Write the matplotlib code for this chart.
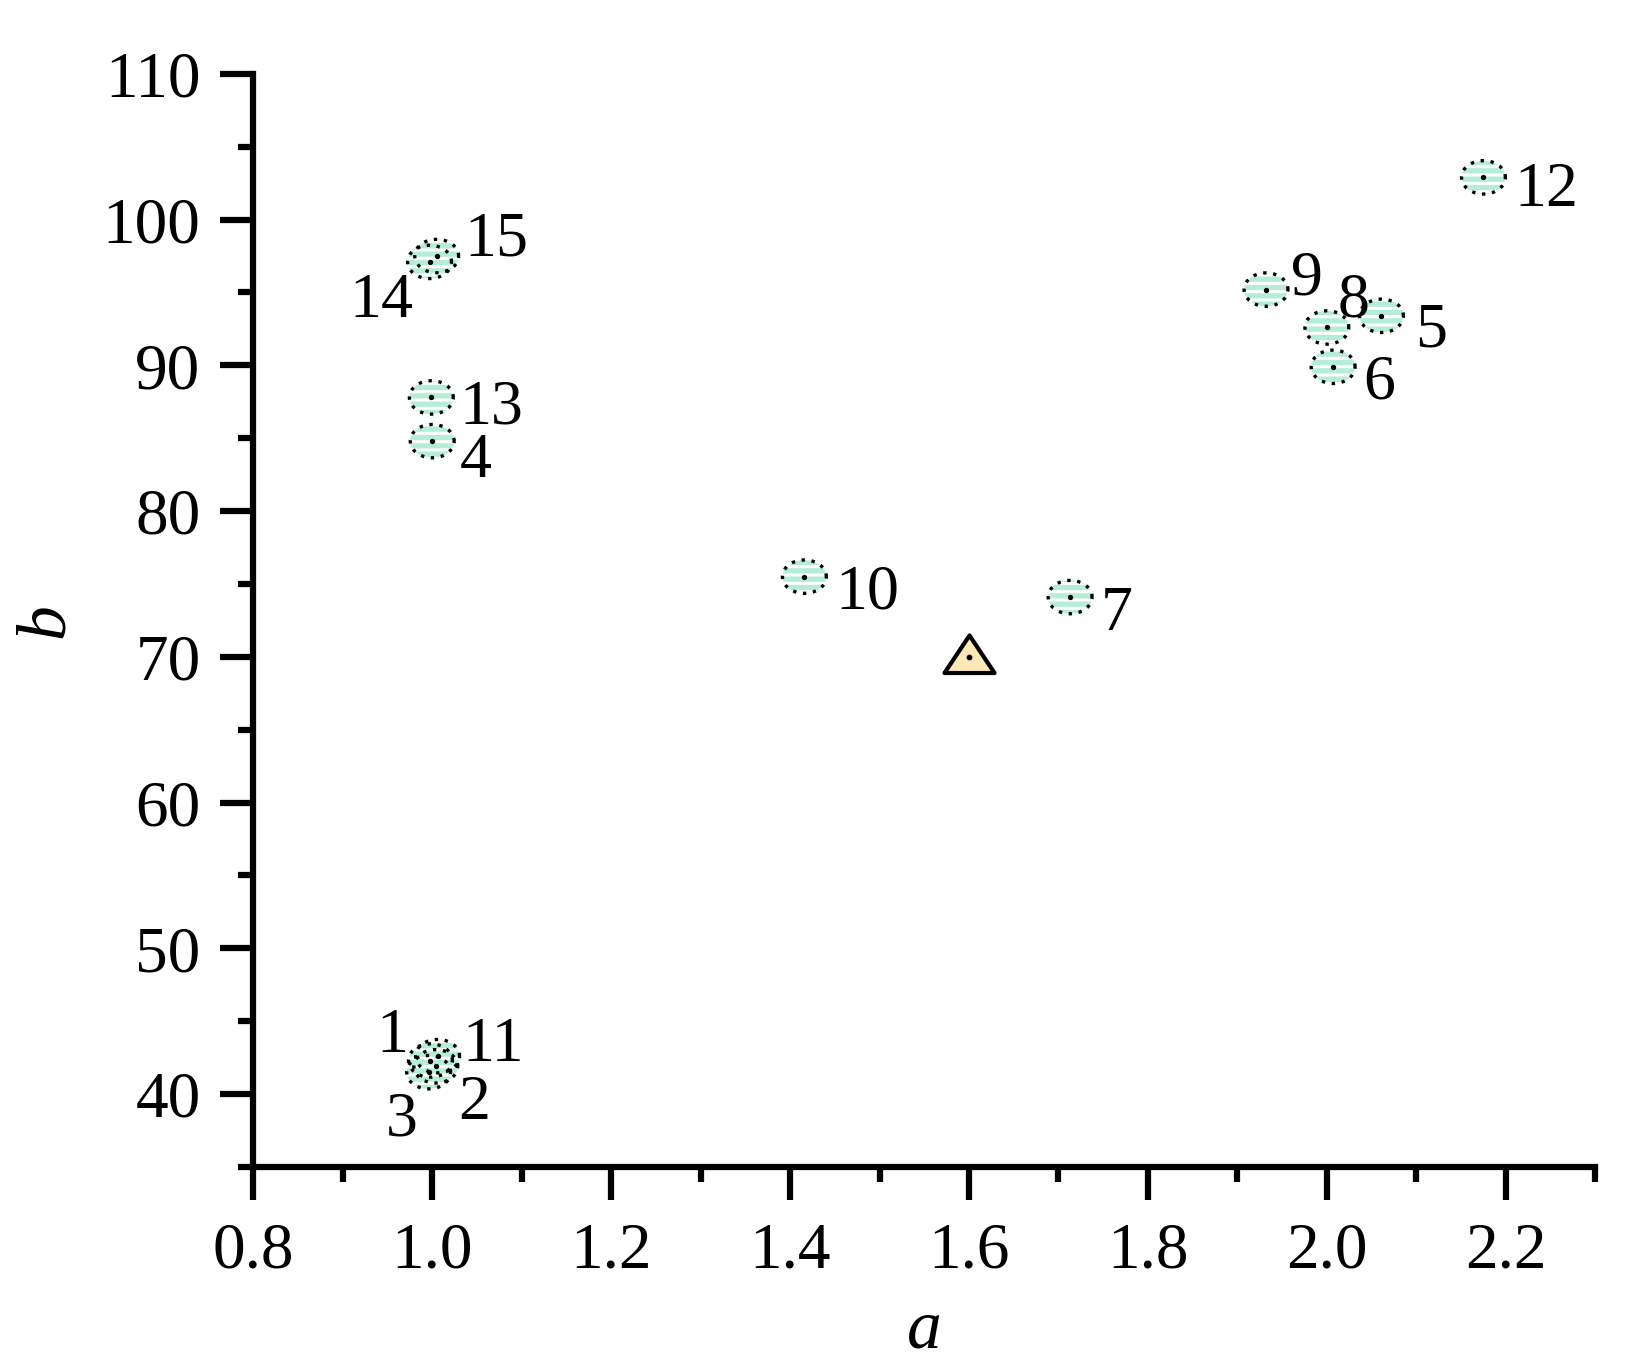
import numpy as np
from matplotlib import pyplot as plt
from matplotlib.path import Path
from matplotlib.ticker import MultipleLocator

plt.rcParams['font.family'] = ['Liberation Serif', 'DejaVu Serif']
plt.rcParams['hatch.linewidth'] = 3.8

# sample points (a, b) and their labels
labels = ['1', '2', '3', '4', '5', '6', '7', '8', '9', '10', '11', '12', '13', '14', '15']
a_vals = [0.998, 1.004, 0.996, 1.000, 2.061, 2.007, 1.713, 2.000, 1.932, 1.416, 1.006, 2.175, 0.999, 0.997, 1.005]
b_vals = [42.3, 41.9, 41.5, 84.8, 93.4, 89.9, 74.1, 92.6, 95.2, 75.5, 42.6, 102.9, 87.8, 97.1, 97.5]
# label offsets in points (dx, dy) and horizontal alignment
label_dx = [-16, 16, -8, 20, 24, 22, 22, 8, 18, 22, 18, 22, 20, -12, 20]
label_dy = [22, -22, -30, -10, -6, -7, -8, 24, 12, -7, 12, -5, -3, -24, 16]
label_ha = ['right', 'left', 'right', 'left', 'left', 'left', 'left', 'left', 'left', 'left', 'left', 'left', 'left', 'right', 'left']

# reference point
ref_a = [1.6]
ref_b = [70.0]

t = np.linspace(0, 2 * np.pi, 60)
ellipse = Path(np.column_stack([np.cos(t), 0.76 * np.sin(t)]), closed=False)
tri = Path([(-1, -0.62), (1, -0.62), (0, 0.88), (-1, -0.62)], closed=True)

fig = plt.figure(figsize=(16.48, 13.68), dpi=100)
ax = fig.add_axes([0.1537, 0.147, 0.8143, 0.799])

ax.scatter(a_vals, b_vals, s=1000, marker=ellipse, facecolor='white', edgecolor='#b5eed6',
           hatch='--', linewidths=0, zorder=3)
ax.scatter(a_vals, b_vals, s=1000, marker=ellipse, facecolor='none', edgecolor='black',
           linewidths=2.4, linestyles=(0, (1, 2)), zorder=4)
ax.scatter(a_vals, b_vals, s=8, marker='o', color='black', zorder=5)

ax.scatter(ref_a, ref_b, s=1300, marker=tri, facecolor='#fde9b8', edgecolor='black',
           linewidths=3, zorder=3)
ax.scatter(ref_a, ref_b, s=10, marker='o', color='black', zorder=5)

for lab, x, y, dx, dy, ha in zip(labels, a_vals, b_vals, label_dx, label_dy, label_ha):
    ax.annotate(lab, (x, y), xytext=(dx, dy), textcoords='offset points',
                ha=ha, va='center_baseline', fontsize=46)

ax.set_xlim(0.8, 2.3)
ax.set_ylim(35, 110)
ax.xaxis.set_minor_locator(MultipleLocator(0.1))
ax.yaxis.set_major_locator(MultipleLocator(10))
ax.yaxis.set_minor_locator(MultipleLocator(5))
ax.set_xticks([0.8, 1.0, 1.2, 1.4, 1.6, 1.8, 2.0, 2.2])
ax.set_xticklabels(['0.8', '1.0', '1.2', '1.4', '1.6', '1.8', '2.0', '2.2'])

for side in ['top', 'right']:
    ax.spines[side].set_visible(False)
for side in ['left', 'bottom']:
    ax.spines[side].set_linewidth(4.5)

ax.tick_params(which='major', direction='out', length=24, width=4.5, labelsize=47)
ax.tick_params(axis='x', which='major', pad=16)
ax.tick_params(axis='y', which='major', pad=14)
ax.tick_params(which='minor', direction='out', length=11, width=4.5)

ax.set_xlabel('a', fontsize=50, style='italic', labelpad=12)
ax.set_ylabel('b', fontsize=50, style='italic', labelpad=18)

plt.savefig('out.png', dpi=100)
